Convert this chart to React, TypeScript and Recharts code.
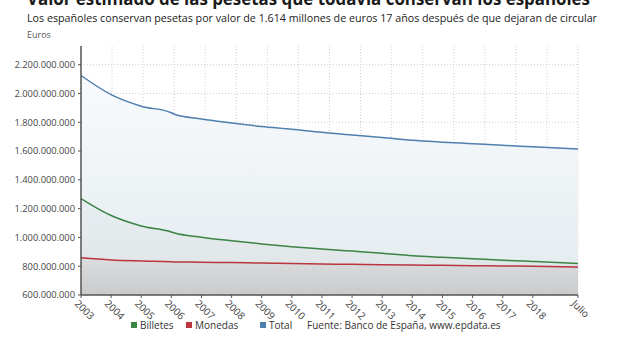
import { ComposedChart, Area, XAxis, YAxis, CartesianGrid } from "recharts";

// años (2006.08 = pequeño escalón tras 2006, 2019.5 = julio 2019)
const years = [2003, 2004, 2005, 2006, 2006.08, 2007, 2008, 2009, 2010, 2011, 2012, 2013, 2014, 2015, 2016, 2017, 2018, 2019.5];
// millones de euros
const billetes = [1270, 1152, 1080, 1038, 1032, 1002, 977, 955, 936, 920, 905, 890, 873, 862, 852, 842, 833, 819];
const monedas = [858, 843, 836, 831, 830, 828, 825, 822, 819, 816, 813, 810, 808, 806, 804, 802, 800, 795];
const total = [2125, 1992, 1912, 1866, 1858, 1823, 1795, 1771, 1752, 1730, 1712, 1695, 1675, 1662, 1651, 1640, 1630, 1614];

const xTicks = [2003, 2004, 2005, 2006, 2007, 2008, 2009, 2010, 2011, 2012, 2013, 2014, 2015, 2016, 2017, 2018, 2019.5];
const yTicks = [600, 800, 1000, 1200, 1400, 1600, 1800, 2000, 2200].map((v) => v * 1e6);
const Y_MIN = 600e6;
const Y_MAX = 2330e6;

const series = [
  { key: "Billetes", color: "#3b8445" },
  { key: "Monedas", color: "#b8363c" },
  { key: "Total", color: "#4f7fae" },
];

const data = years.map((y, i) => ({
  year: y,
  Billetes: billetes[i] * 1e6,
  Monedas: monedas[i] * 1e6,
  Total: total[i] * 1e6,
}));

const FONT = "'Open Sans', sans-serif";

const fmt = (v: number) => String(Math.round(v)).replace(/\B(?=(\d{3})+(?!\d))/g, ".");

const XTick = ({ x, y, payload }: any) => (
  <g transform={`translate(${x},${y})`}>
    <text x={0} y={0} dx={-2} dy={8} transform="rotate(45)" textAnchor="start" fontSize={10} fill="#444" fontFamily={FONT}>
      {payload.value === 2019.5 ? "Julio" : payload.value}
    </text>
  </g>
);

export default function App() {
  return (
    <div style={{ position: "absolute", left: 0, top: 0, width: 620, height: 350, background: "#fff", fontFamily: FONT }}>
      <ComposedChart width={620} height={350} data={data} margin={{ top: 46, right: 42, left: 0, bottom: 17 }}>
        <defs>
          <linearGradient id="gTotal" x1="0" y1="0" x2="0" y2="1">
            <stop offset="0%" stopColor="#f8fbfd" />
            <stop offset="100%" stopColor="#e3eaee" />
          </linearGradient>
          <linearGradient id="gBilletes" x1="0" y1="0" x2="0" y2="1">
            <stop offset="0%" stopColor="#e8eef1" />
            <stop offset="100%" stopColor="#dde2e5" />
          </linearGradient>
          <linearGradient id="gMonedas" x1="0" y1="0" x2="0" y2="1">
            <stop offset="0%" stopColor="#dcdddf" />
            <stop offset="100%" stopColor="#c9cacc" />
          </linearGradient>
        </defs>
        <Area type="monotone" dataKey="Total" stroke="#4f7fae" strokeWidth={1.5} fill="url(#gTotal)" fillOpacity={1} isAnimationActive={false} dot={false} activeDot={false} />
        <Area type="monotone" dataKey="Billetes" stroke="#3b8445" strokeWidth={1.5} fill="url(#gBilletes)" fillOpacity={1} isAnimationActive={false} dot={false} activeDot={false} />
        <Area type="monotone" dataKey="Monedas" stroke="#b8363c" strokeWidth={1.5} fill="url(#gMonedas)" fillOpacity={1} isAnimationActive={false} dot={false} activeDot={false} />
        <CartesianGrid
          stroke="#cfcfcf"
          strokeDasharray="1 2"
          verticalCoordinatesGenerator={({ offset }: any) =>
            Array.from({ length: 17 }, (_, i) => offset.left + (i * offset.width) / 16)
          }
          horizontalCoordinatesGenerator={({ offset }: any) =>
            yTicks.map((v) => offset.top + offset.height * (1 - (v - Y_MIN) / (Y_MAX - Y_MIN)))
          }
        />
        <XAxis
          dataKey="year"
          type="number"
          domain={[2003, 2019.5]}
          ticks={xTicks}
          interval={0}
          height={38}
          tick={<XTick />}
          tickSize={3}
          axisLine={{ stroke: "#555", strokeWidth: 1.5 }}
          tickLine={{ stroke: "#555" }}
        />
        <YAxis
          domain={[Y_MIN, Y_MAX]}
          ticks={yTicks}
          interval={0}
          width={81}
          tickFormatter={fmt}
          tickSize={3}
          tickMargin={3}
          tick={{ fontSize: 9.3, fill: "#444", fontFamily: FONT }}
          axisLine={{ stroke: "#555", strokeWidth: 1.5 }}
          tickLine={{ stroke: "#555" }}
        />
      </ComposedChart>
      <svg width={620} height={350} style={{ position: "absolute", left: 0, top: 0, pointerEvents: "none" }}>
        <text x={27} y={5} fontSize={17} fontWeight="bold" fill="#1a1a1a" fontFamily={FONT} textLength={563} lengthAdjust="spacingAndGlyphs">
          Valor estimado de las pesetas que todavía conservan los españoles
        </text>
        <text x={27} y={22} fontSize={11.5} fontWeight={500} fill="#1a1a1a" fontFamily={FONT} textLength={570} lengthAdjust="spacingAndGlyphs">
          Los españoles conservan pesetas por valor de 1.614 millones de euros 17 años después de que dejaran de circular
        </text>
        <text x={27} y={38} fontSize={9} fill="#555" fontFamily={FONT}>
          Euros
        </text>
        {series.map((s, i) => {
          const xs = [131, 186, 260][i];
          return (
            <g key={s.key}>
              <rect x={xs} y={322} width={6} height={6} fill={s.color} />
              <text x={xs + 9} y={329} fontSize={10} fill="#333" fontFamily={FONT}>
                {s.key}
              </text>
            </g>
          );
        })}
        <text x={307} y={329} fontSize={10} fill="#333" fontFamily={FONT}>
          Fuente: Banco de España, www.epdata.es
        </text>
      </svg>
    </div>
  );
}
